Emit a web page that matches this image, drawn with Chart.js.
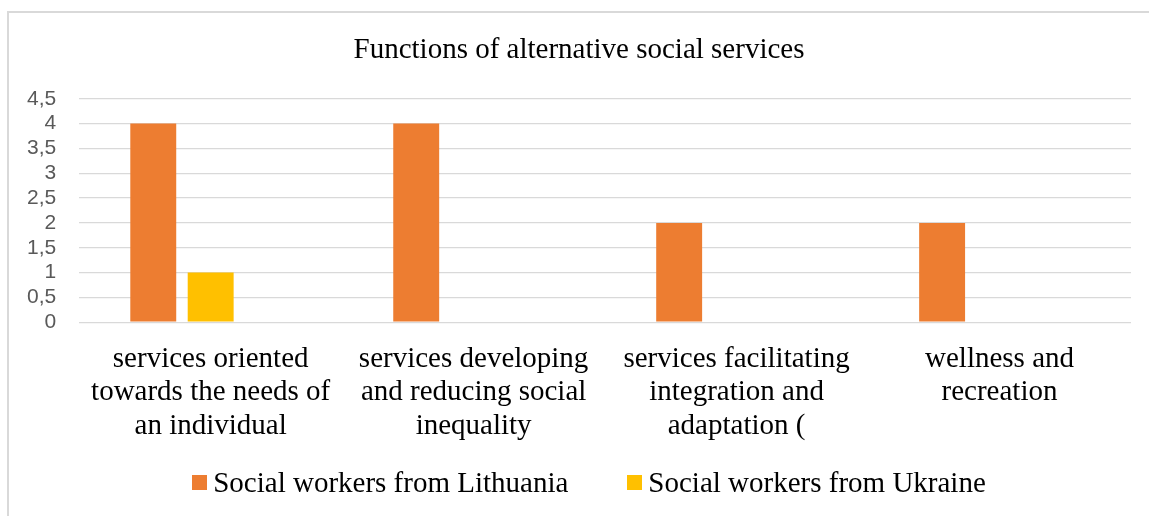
<!DOCTYPE html>
<html>
<head>
<meta charset="utf-8">
<script src="https://cdn.jsdelivr.net/npm/chart.js@4"></script>
<style>
  body { margin: 0; background: #fff; width: 1149px; height: 516px; overflow: hidden; position: relative; }
  #frame { position: absolute; left: 7px; top: 11px; border-left: 2px solid #d9d9d9; border-top: 2px solid #d9d9d9; }
  #chart { display: block; }
  #legend { position: absolute; left: 29px; width: 1120px; top: 466px; display: flex; justify-content: center; align-items: center;
            font-family: "Liberation Serif", "Times New Roman", serif; font-size: 29px; line-height: 32px; color: #000; }
  #legend .item { display: flex; align-items: center; margin: 0 29.5px; }
  #legend .box { width: 15px; height: 15px; margin-right: 6px; }
</style>
</head>
<body>
<div id="frame"><canvas id="chart" width="1140" height="503"></canvas></div>
<div id="legend"></div>
<script>
// categories (split into lines the way they wrap under the axis)
const categories = [
  ['services oriented', 'towards the needs of', 'an individual'],
  ['services developing', 'and reducing social', 'inequality'],
  ['services facilitating', 'integration and', 'adaptation ('],
  ['wellness and', 'recreation']
];

const lithuania = [4, 4, 2, 2];
const ukraine = [1, 0, 0, 0];
// third column of the sheet is blank but still takes its slot in each group
const blankColumn = [null, null, null, null];

const yTicks = [0, 0.5, 1, 1.5, 2, 2.5, 3, 3.5, 4, 4.5];

const serif = '"Liberation Serif", "Times New Roman", serif';
const yTickPadding = 23;

const chart = new Chart(document.getElementById('chart').getContext('2d'), {
  type: 'bar',
  data: {
    labels: categories,
    datasets: [
      { label: 'Social workers from Lithuania', data: lithuania, backgroundColor: '#ED7D31' },
      { label: 'Social workers from Ukraine', data: ukraine, backgroundColor: '#FFC000' },
      { label: '', data: blankColumn, backgroundColor: '#A5A5A5', inLegend: false }
    ]
  },
  options: {
    responsive: false,
    devicePixelRatio: 1,
    animation: false,
    categoryPercentage: 0.655,
    barPercentage: 0.8,
    layout: { padding: { left: 18, right: 18, top: 0, bottom: 53 } },
    plugins: {
      legend: { display: false },
      tooltip: { enabled: false },
      title: {
        display: true,
        text: 'Functions of alternative social services',
        color: '#000',
        font: { family: serif, size: 29, weight: 'normal' },
        padding: { top: 20, bottom: 31 }
      }
    },
    scales: {
      x: {
        grid: { display: false, drawTicks: false },
        border: { display: false },
        ticks: {
          color: '#000',
          font: { family: serif, size: 29, lineHeight: 1.159 },
          padding: 20,
          maxRotation: 0,
          autoSkip: false
        }
      },
      y: {
        min: yTicks[0],
        max: yTicks[yTicks.length - 1],
        afterBuildTicks: axis => { axis.ticks = yTicks.map(v => ({ value: v })); },
        // keep the axis just as wide as its labels plus padding
        afterFit: axis => { axis.width = axis._labelSizes.widest.width + yTickPadding; },
        grid: { color: '#d9d9d9', lineWidth: 1.3, drawTicks: false },
        border: { display: false },
        ticks: {
          color: '#595959',
          font: { family: '"Liberation Sans", Arial, sans-serif', size: 21 },
          padding: yTickPadding,
          autoSkip: false,
          callback: v => String(v).replace('.', ',')
        }
      }
    }
  }
});

// legend drawn as html so the swatch/text spacing can be set freely
const legendEl = document.getElementById('legend');
chart.data.datasets.filter(ds => ds.inLegend !== false).forEach(ds => {
  const item = document.createElement('div');
  item.className = 'item';
  const box = document.createElement('span');
  box.className = 'box';
  box.style.background = ds.backgroundColor;
  const txt = document.createElement('span');
  txt.textContent = ds.label;
  item.appendChild(box);
  item.appendChild(txt);
  legendEl.appendChild(item);
});
</script>
</body>
</html>
